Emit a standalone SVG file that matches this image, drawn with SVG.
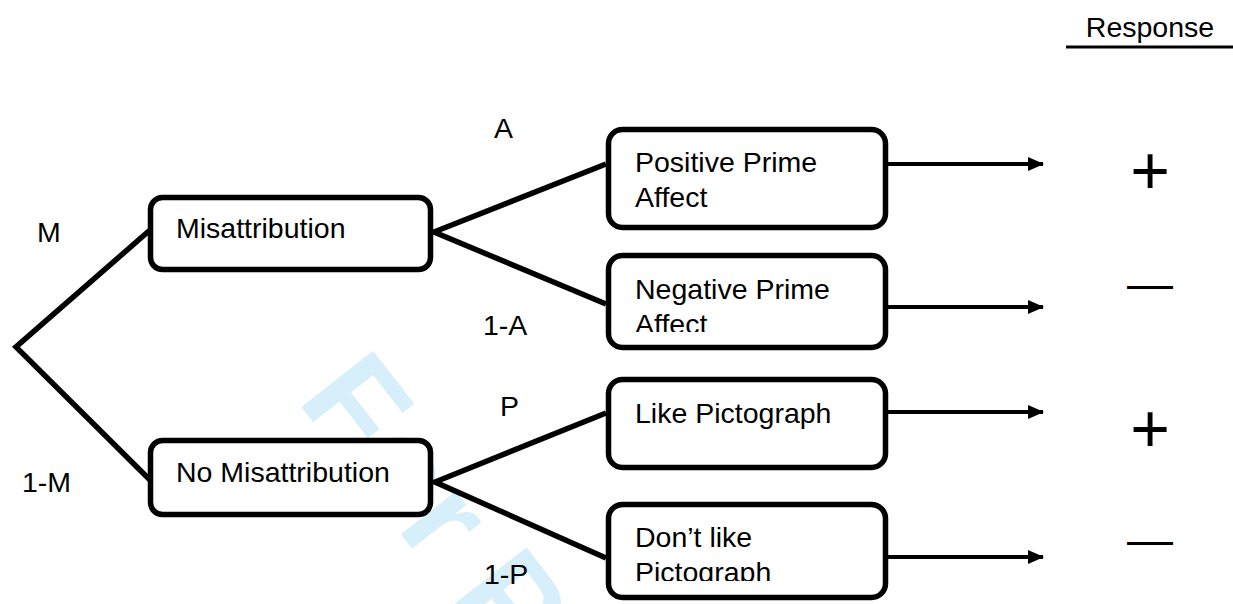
<svg xmlns="http://www.w3.org/2000/svg" width="1233" height="604" viewBox="0 0 1233 604">
<style>
  text { font-family: "Liberation Sans", Arial, sans-serif; fill: #000; }
  .t { font-size: 28.5px; }
  .box { fill: #fff; stroke: #000; stroke-width: 5.5; }
  .edge { stroke: #000; stroke-width: 5.5; fill: none; }
  .arr { stroke: #000; stroke-width: 4; fill: none; marker-end: url(#ah); }
  .wm { font-family: "Liberation Sans", Arial, sans-serif; font-weight: bold; font-size: 132px; fill: #d6effb; }
</style>
<defs>
  <marker id="ah" markerWidth="16" markerHeight="14" refX="15" refY="7" orient="auto" markerUnits="userSpaceOnUse">
    <path d="M0,0 L16,7 L0,14 Z" fill="#000"/>
  </marker>
  <clipPath id="clipNeg"><rect x="600" y="250" width="300" height="82"/></clipPath>
  <clipPath id="clipDont"><rect x="600" y="500" width="300" height="81"/></clipPath>
  <clipPath id="clipPage"><rect x="0" y="0" width="1233" height="604"/></clipPath>
</defs>
<rect width="1233" height="604" fill="#fff"/>
<g clip-path="url(#clipPage)">
  <text class="wm" transform="translate(296,400) rotate(52)">For Peer Review</text>
</g>

<g id="connectors">
  <polyline class="edge" points="150,230 16,347 150,480"/>
  <polyline class="edge" points="606,164 434,232 606,304"/>
  <polyline class="edge" points="606,413 435,482 606,558"/>
  <line class="arr" x1="888" y1="164" x2="1043" y2="164"/>
  <line class="arr" x1="888" y1="307" x2="1043" y2="307"/>
  <line class="arr" x1="888" y1="412" x2="1043" y2="412"/>
  <line class="arr" x1="888" y1="557" x2="1043" y2="557"/>
</g>

<g id="labels">
  <text class="t" x="37" y="242">M</text>
  <text class="t" x="22" y="492">1-M</text>
  <text class="t" x="494" y="138">A</text>
  <text class="t" x="483" y="335">1-A</text>
  <text class="t" x="500" y="416">P</text>
  <text class="t" x="484" y="584">1-P</text>
</g>

<g id="misattribution">
  <rect class="box" x="150.5" y="197.5" width="280" height="72" rx="12"/>
  <text class="t" x="176" y="238">Misattribution</text>
</g>
<g id="no-misattribution">
  <rect class="box" x="150.5" y="440.5" width="280" height="74" rx="12"/>
  <text class="t" x="176" y="482">No Misattribution</text>
</g>
<g id="positive">
  <rect class="box" x="608.5" y="129.5" width="277" height="98" rx="14"/>
  <text class="t" x="635" y="172">Positive Prime</text>
  <text class="t" x="635" y="207">Affect</text>
</g>
<g id="negative">
  <rect class="box" x="608.5" y="255.5" width="277" height="92" rx="14"/>
  <g clip-path="url(#clipNeg)">
    <text class="t" x="635" y="299">Negative Prime</text>
    <text class="t" x="635" y="334">Affect</text>
  </g>
</g>
<g id="like">
  <rect class="box" x="608.5" y="379.5" width="277" height="88" rx="14"/>
  <text class="t" x="635" y="423">Like Pictograph</text>
</g>
<g id="dont-like">
  <rect class="box" x="608.5" y="504.5" width="277" height="93" rx="14"/>
  <g clip-path="url(#clipDont)">
    <text class="t" x="635" y="547">Don’t like</text>
    <text class="t" x="635" y="582">Pictograph</text>
  </g>
</g>

<g id="response">
  <text class="t" x="1150" y="37" text-anchor="middle">Response</text>
  <line x1="1066" y1="47" x2="1233" y2="47" stroke="#000" stroke-width="3"/>
  <text x="1150" y="194" text-anchor="middle" font-size="68">+</text>
  <text x="1150" y="299" text-anchor="middle" font-size="46">—</text>
  <text x="1150" y="452" text-anchor="middle" font-size="68">+</text>
  <text x="1150" y="555" text-anchor="middle" font-size="46">—</text>
</g>
</svg>
